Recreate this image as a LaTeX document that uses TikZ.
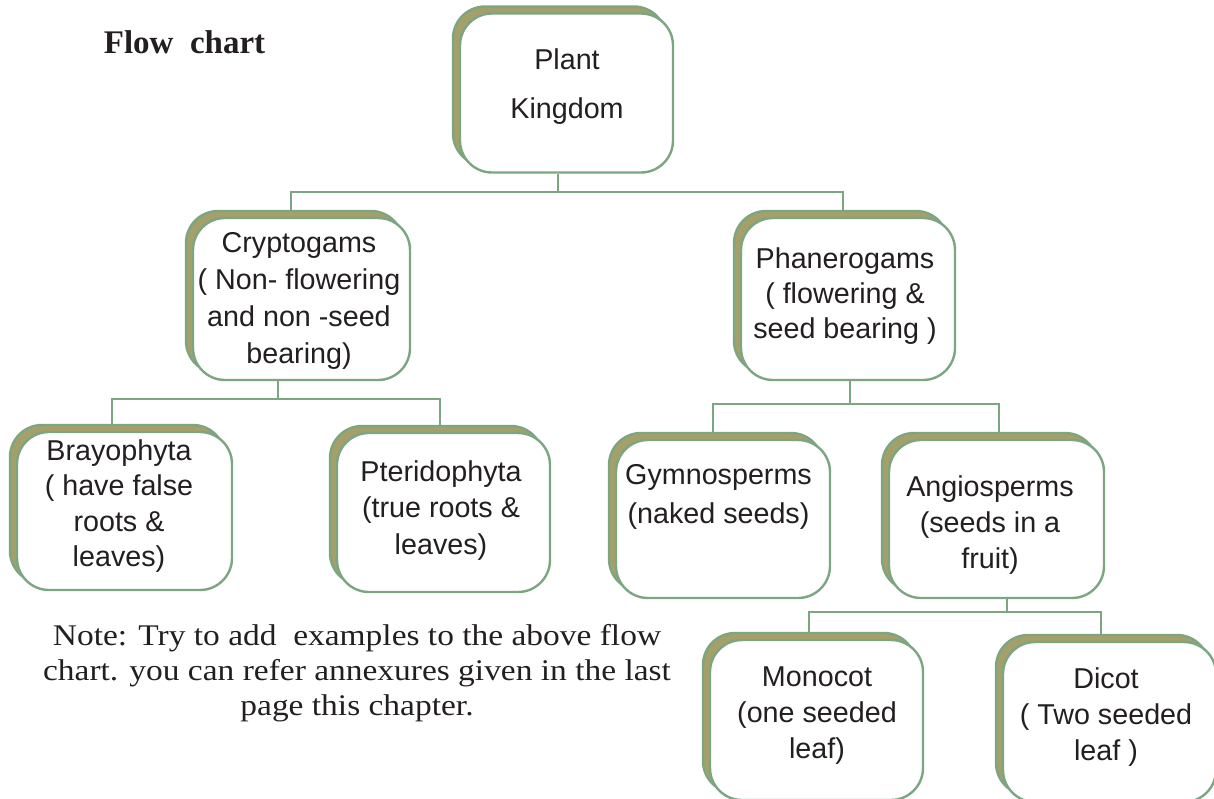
\documentclass[tikz,border=0pt]{standalone}
\usepackage{fontspec}
\setmainfont{Liberation Serif}
\newfontfamily\notefont[FakeStretch=1.115]{Liberation Serif}
\newfontfamily\boxfont{Liberation Sans}
\usetikzlibrary{shadows,backgrounds}
\definecolor{bgreen}{RGB}{124,165,130}
\definecolor{bolive}{RGB}{165,160,105}
\definecolor{ink}{RGB}{35,31,32}
\begin{document}
\begin{tikzpicture}[x=1pt,y=-1pt,
  box/.style={draw=bgreen, line width=2.4pt, fill=white, rounded corners=32pt,
    inner sep=0pt, minimum width=#1, minimum height=159pt,
    general shadow={fill=bolive, draw=bgreen, line width=2.4pt, shadow xshift=-7pt, shadow yshift=7pt}},
  box/.default=214pt,
  txt/.style={text=ink, align=center, inner sep=0pt, font=\boxfont\fontsize{28.7}{#1}\selectfont},
  txt/.default=36,
  conn/.style={draw=bgreen, line width=2.2pt}]
\useasboundingbox (0,0) rectangle (1214,798);
\clip (0,0) rectangle (1214,798);

% boxes
\node[box=213pt] (plant) at (566.5,93) {};
\node[box=217pt, minimum height=162pt] (crypto) at (301.5,299) {};
\node[box=214pt, minimum height=162pt] (phan) at (848,299) {};
\node[box=215pt, minimum height=158pt] (bray) at (124.5,511) {};
\node[box=213pt] (pter) at (443.5,512.5) {};
\node[box=214pt, minimum height=158pt] (gym) at (723,519) {};
\node[box=215pt, minimum height=158pt] (angio) at (996.5,519) {};
\node[box=213pt, minimum height=160pt] (mono) at (816.5,720) {};
\node[box=213pt, minimum height=160pt] (dicot) at (1109.5,722) {};

% texts
\node[txt=49] (plantT) at (567,87) {Plant\\Kingdom};
\node[txt=36.7] (cryptoT) at (299,301) {Cryptogams\\( Non- flowering\\and non -seed\\bearing)};
\node[txt=35] (phanT) at (845,296) {Phanerogams\\( flowering \&\\seed bearing )};
\node[txt=35.3] (brayT) at (119,506) {Brayophyta\\( have false\\roots \&\\leaves)};
\node[txt=36.5] (pterT) at (441,510.5) {Pteridophyta\\(true roots \&\\leaves)};
\node[txt=39] (gymT) at (718.5,496.5) {Gymnosperms\\(naked seeds)};
\node[txt=36] (angioT) at (990,525) {Angiosperms\\(seeds in a\\fruit)};
\node[txt=36] (monoT) at (817,716) {Monocot\\(one seeded\\leaf)};
\node[txt=36] (dicotT) at (1106,717) {Dicot\\( Two seeded\\leaf )};

% titles
\node[text=ink, inner sep=0pt, font=\bfseries\fontsize{33}{40}\selectfont] (title) at (184.5,42) {Flow\ \ chart};
\node[text=ink, inner sep=0pt, align=center, font=\notefont\fontsize{30}{35}\selectfont] (note) at (357,673)
  {Note: Try to add\ \ examples to the above flow\\chart. you can refer annexures given in the last\\page this chapter.};

% connectors
\begin{scope}[on background layer]
\draw[conn] ([xshift=-8.5pt]plant.south) -- ++(0,18) coordinate (j1);
\draw[conn] ([xshift=-10.5pt]crypto.north) |- (j1) -| ([xshift=-5pt]phan.north);
\draw[conn] ([xshift=-23.5pt]crypto.south) -- ++(0,18) coordinate (j2);
\draw[conn] ([xshift=-12.5pt]bray.north) |- (j2) -| ([xshift=-3.5pt]pter.north);
\draw[conn] ([xshift=2pt]phan.south) -- ++(0,23) coordinate (j3);
\draw[conn] ([xshift=-10pt]gym.north) |- (j3) -| ([xshift=2.5pt]angio.north);
\draw[conn] ([xshift=10.5pt]angio.south) -- ++(0,13) coordinate (j4);
\draw[conn] ([xshift=-7.5pt]mono.north) |- (j4) -| ([xshift=-8.5pt]dicot.north);
\end{scope}
\end{tikzpicture}
\end{document}
